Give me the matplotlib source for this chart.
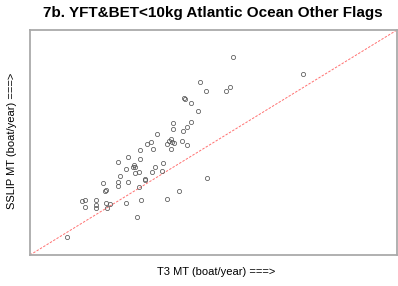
import matplotlib
matplotlib.use('Agg')
import matplotlib.pyplot as plt

# T3 vs SSLIP estimates (arbitrary units 0-100)
t3_mt = [55.3, 74.3, 46.3, 47.9, 53.3, 54.6, 42.0, 42.1, 44.0, 45.8,
         39.0, 43.9, 39.0, 42.7, 41.6, 34.5, 32.0, 33.0, 38.4, 37.8,
         38.7, 39.3, 37.2, 41.4, 42.9, 30.0, 33.4, 38.4, 26.8, 24.0,
         30.1, 28.4, 28.6, 28.2, 26.1, 29.6, 28.7, 34.1, 36.2, 33.3,
         36.1, 24.6, 31.3, 31.4, 26.6, 24.0, 24.1, 19.8, 20.5, 20.6,
         29.8, 40.6, 48.2, 14.3, 15.1, 18.0, 15.0, 18.0, 18.0, 20.7,
         21.7, 20.9, 26.1, 30.3, 37.4, 29.1, 10.1]
sslip_mt = [87.9, 80.3, 77.0, 72.8, 72.9, 74.5, 69.7, 69.5, 67.5, 64.1,
            58.7, 58.9, 56.0, 56.8, 55.1, 53.8, 49.3, 50.1, 51.4, 50.7,
            50.2, 49.6, 49.2, 50.8, 48.8, 46.7, 47.2, 46.9, 43.6, 41.3,
            42.8, 40.2, 39.2, 38.9, 38.1, 37.1, 36.6, 39.3, 41.0, 36.7,
            37.4, 34.9, 33.7, 33.5, 32.4, 32.5, 30.8, 31.8, 28.6, 28.7,
            30.4, 28.3, 34.1, 24.2, 24.6, 24.4, 21.4, 22.4, 20.9, 23.0,
            22.7, 21.0, 23.0, 24.4, 25.0, 16.8, 8.2]
lim = [0, 100]

plt.rcParams['font.family'] = ['Liberation Sans', 'DejaVu Sans']

fig = plt.figure(figsize=(3.98, 2.86), dpi=100)
ax = fig.add_axes([30/398, 31/286, 367/398, 225/286])

ax.plot(lim, lim, color='#ff7070', lw=0.7, dashes=(2.5, 1.5))
ax.plot(t3_mt, sslip_mt, 'o', ms=3.0, mfc='none', mec='#555555', mew=0.55)

ax.set_xlim(lim)
ax.set_ylim(lim)
ax.set_xticks([])
ax.set_yticks([])
for s in ax.spines.values():
    s.set_color('#aaaaaa')
    s.set_linewidth(1.3)

fig.text(213/398, 1 - 13/286, '7b. YFT&BET<10kg Atlantic Ocean Other Flags',
         ha='center', va='center', fontsize=11, fontweight='bold')
fig.text(216/398, 1 - 272/286, 'T3 MT (boat/year) ===>',
         ha='center', va='center', fontsize=8.0)
fig.text(12/398, 1 - 141/286, 'SSLIP MT (boat/year) ===>',
         ha='center', va='center', fontsize=8.0, rotation=90)

fig.savefig('out.png', dpi=100)
